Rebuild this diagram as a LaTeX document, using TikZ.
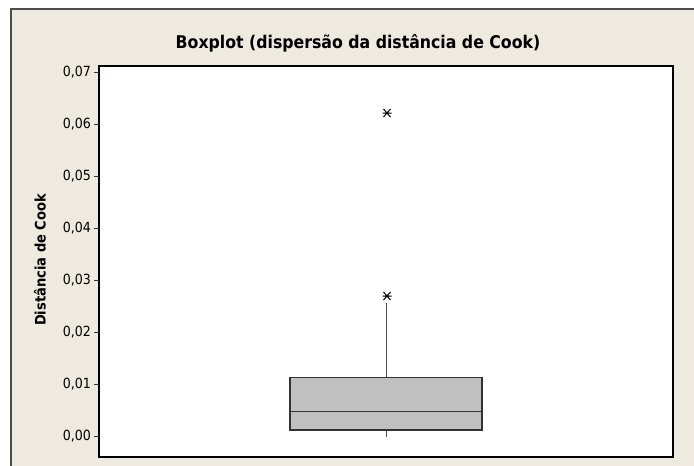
\documentclass[tikz,border=0pt]{standalone}
\usepackage{fontspec}
\setmainfont{DejaVu Sans Condensed}
\usetikzlibrary{positioning}
\definecolor{panel}{RGB}{238,234,224}
\definecolor{boxgray}{RGB}{192,192,192}

\begin{document}
\begin{tikzpicture}[x=1pt, y=-1pt,
  frame/.style={draw=black, line width=1.3pt},
  tick/.style={draw=black!80, line width=0.9pt},
  lbl/.style={anchor=east, inner sep=0pt, font=\fontsize{14}{16}\selectfont},
  box/.style={draw=black!80, fill=boxgray, line width=1.3pt},
  whisk/.style={draw=black!70, line width=1.1pt},
  outmark/.pic={\draw[line width=1pt] (-3.5,-4) -- (3.5,4) (-3.5,4) -- (3.5,-4) (-4.5,0) -- (4.5,0);}]
\useasboundingbox (0,0) rectangle (694,466);
\fill[panel] (11,9) rectangle (694,466);
\draw[black!70, line width=1.2pt] (11,466) -- (11,9) -- (694,9);
\node[font=\bfseries\fontsize{17.5}{20}\selectfont] (title) at (358,43) {Boxplot (dispersão da distância de Cook)};
\draw[frame, fill=white] (99,66) rectangle (673,457);
\node[rotate=90, font=\bfseries\fontsize{14.5}{16}\selectfont] (ylabel) at (40,260) {Distância de Cook};
\foreach \k in {0,...,7} {
  \draw[tick] (94,436-52*\k) -- (99,436-52*\k);
  \node[lbl] (t\k) at (91,436-52*\k) {0,0\k};
}
% whiskers and box
\coordinate (q3) at (386.7,377.7);
\coordinate (q1) at (386.7,430);
\coordinate (hi) at (386.7,302.7);
\coordinate (lo) at (386.7,437);
\draw[whisk] (q3) -- (hi);
\draw[whisk] (q1) -- (lo);
\draw[box] (290,377.7) rectangle (482,430);
\draw[box] (290,411.7) -- (482,411.7);
% outliers
\pic at (387,296) {outmark};
\pic at (387,113) {outmark};
\end{tikzpicture}
\end{document}
